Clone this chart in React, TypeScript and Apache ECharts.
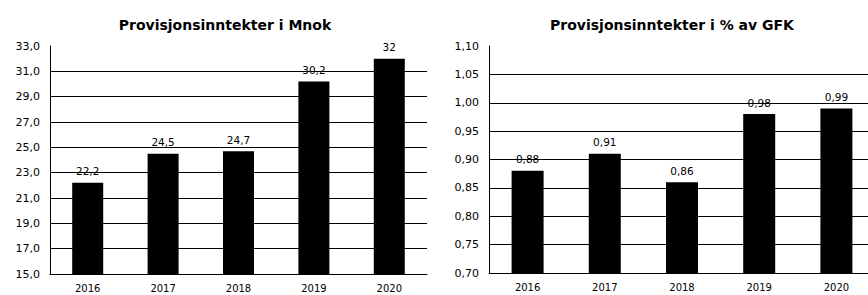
import React, { useEffect, useRef } from "react";
import * as echarts from "echarts";

const years = ["2016", "2017", "2018", "2019", "2020"];
const incomeMnok = [22.2, 24.5, 24.7, 30.2, 32];
const incomePct = [0.88, 0.91, 0.86, 0.98, 0.99];
const titleLeft = "Provisjonsinntekter i Mnok";
const titleRight = "Provisjonsinntekter i % av GFK";

const FONT = "DejaVu Sans";

const fmt = (v: number, d: number) => v.toFixed(d).replace(".", ",");
const fmtLabel = (v: number) => String(v).replace(".", ",");

export default function App() {
  const ref = useRef<HTMLDivElement>(null);
  useEffect(() => {
    document.body.style.overflow = "hidden";
    const chart = echarts.init(ref.current!, null, { renderer: "svg" });
    const axisLabel = { color: "#000", fontFamily: FONT, fontSize: 10 };
    const mkX = (gi: number) => ({
      type: "category",
      gridIndex: gi,
      data: years,
      axisLine: { show: true, lineStyle: { color: "#000", width: 1 } },
      axisTick: { show: false },
      axisLabel: { ...axisLabel, margin: 9 },
    });
    const mkY = (gi: number, min: number, max: number, interval: number, d: number) => ({
      type: "value",
      gridIndex: gi,
      min,
      max,
      interval,
      axisLine: { show: true, lineStyle: { color: "#000", width: 1 } },
      axisTick: { show: false },
      axisLabel: { ...axisLabel, fontSize: 11, margin: 10, formatter: (v: number) => fmt(v, d) },
      splitLine: { show: true, showMaxLine: false, lineStyle: { color: "#000", width: 1 } },
    });
    const label = {
      show: true,
      position: "top",
      distance: 6,
      color: "#000",
      fontFamily: FONT,
      fontSize: 10.5,
      formatter: (p: any) => fmtLabel(p.value),
    };
    const titleStyle = { fontFamily: FONT, fontSize: 14, fontWeight: "bold", color: "#000" };
    chart.setOption({
      animation: false,
      backgroundColor: "#fff",
      title: [
        { text: titleLeft, left: 220, top: 13, textAlign: "center", textStyle: titleStyle },
        { text: titleRight, left: 667, top: 13, textAlign: "center", textStyle: titleStyle },
      ],
      grid: [
        { left: 50, top: 46, width: 377, height: 228 },
        { left: 489, top: 46, width: 386, height: 227 },
      ],
      xAxis: [mkX(0), mkX(1)],
      yAxis: [mkY(0, 15, 33, 2, 1), mkY(1, 0.7, 1.1, 0.05, 2)],
      series: [
        {
          type: "bar",
          xAxisIndex: 0,
          yAxisIndex: 0,
          data: incomeMnok,
          barWidth: 31,
          itemStyle: { color: "#000" },
          label,
        },
        {
          type: "bar",
          xAxisIndex: 1,
          yAxisIndex: 1,
          data: incomePct,
          barWidth: 32,
          itemStyle: { color: "#000" },
          label,
        },
      ],
    });
    return () => chart.dispose();
  }, []);
  return (
    <div style={{ position: "fixed", left: 0, top: 0, width: 868, height: 295, overflow: "hidden", background: "#fff" }}>
      <div ref={ref} style={{ width: 880, height: 295 }} />
    </div>
  );
}
